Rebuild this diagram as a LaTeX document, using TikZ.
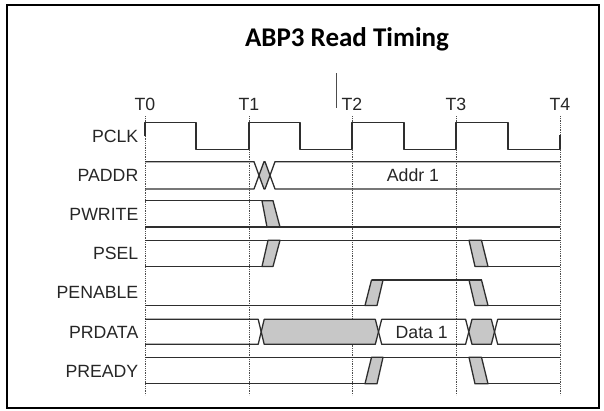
\documentclass[tikz,border=0pt]{standalone}
\usepackage{fontspec}
\setmainfont{Liberation Sans}
\newfontfamily\titlefont{Carlito}
\begin{document}
\begin{tikzpicture}[x=1pt, y=-1pt,
      sig/.style={draw=black!82, line width=1.3pt, line join=round},
      gap/.style={fill=black!22},
      tline/.style={draw=black!70, line width=0.6pt, dash pattern=on 0.7pt off 1.1pt},
      lab/.style={font=\fontsize{17.7}{20}\selectfont, text=black!85, inner sep=0pt}]
    \useasboundingbox (0,0) rectangle (604,410);
    \draw[line width=1.6pt] (7,5) rectangle (599,408);
    \node[font=\titlefont\bfseries\fontsize{27}{30}\selectfont, anchor=base, inner sep=0pt] (title) at (347,46) {ABP3 Read Timing};
    \draw[black!70, line width=0.8pt] (336,73) -- (336,108);
    \foreach \t/\x in {0/145,1/249,2/352,3/456,4/560} {
      \node[lab, anchor=base] (t\t) at (\x,110) {T\t};
      \draw[tline] (\x,116) -- (\x,395);
    }
    \foreach \n/\y in {PCLK/142,PADDR/181.5,PWRITE/220.5,PSEL/259.5,PENABLE/298.8,PRDATA/338,PREADY/377}
      \node[lab, anchor=base east] (\n) at (138.5,\y) {\n};
    % PCLK
    \draw[sig] (145,136) |- (196,122.7) |- (249,149.5) |- (300,122.7) |- (352,149.5)
      |- (404,122.7) |- (456,149.5) |- (508,122.7) |- (560,149.5) -- (560,135);
    % PADDR
    \fill[gap] (259,175.3) -- (264,161.7) -- (265,161.7) -- (270,175.3) -- (265,189) -- (264,189) -- cycle;
    \draw[sig] (145,161.7) -- (254,161.7) -- (264,189) -- (265,189) -- (275,161.7) -- (560,161.7);
    \draw[sig] (145,189) -- (254,189) -- (264,161.7) -- (265,161.7) -- (275,189) -- (560,189);
    \node[lab, anchor=base] (addr) at (413,181.5) {Addr 1};
    % PWRITE
    \filldraw[sig, gap] (262,200.7) -- (273,200.7) -- (280,227) -- (267,227) -- cycle;
    \draw[sig] (145,200.7) -- (273,200.7);
    \draw[sig] (145,227) -- (560,227);
    % PSEL
    \filldraw[sig, gap] (262,266.5) -- (273,266.5) -- (280,240.3) -- (268,240.3) -- cycle;
    \filldraw[sig, gap] (469,240.3) -- (481.5,240.3) -- (488,266.5) -- (475,266.5) -- cycle;
    \draw[sig] (145,240.3) -- (560,240.3);
    \draw[sig] (145,266.5) -- (273,266.5) (475,266.5) -- (560,266.5);
    % PENABLE
    \filldraw[sig, gap] (365,305.5) -- (377,305.5) -- (383,280) -- (371.5,280) -- cycle;
    \filldraw[sig, gap] (469,280) -- (481.5,280) -- (488,305.5) -- (475,305.5) -- cycle;
    \draw[sig] (145,305.5) -- (377,305.5) (371.5,280) -- (481.5,280) (475,305.5) -- (560,305.5);
    % PRDATA
    \draw[sig] (145,319.3) -- (258.2,319.3) -- (261.2,331.8) -- (258.2,344.3) -- (145,344.3);
    \filldraw[sig, gap] (261.2,331.8) -- (264.2,319.3) -- (375.3,319.3) -- (378.5,331.8) -- (375.3,344.3) -- (264.2,344.3) -- cycle;
    \draw[sig] (378.5,331.8) -- (381.7,319.3) -- (465.6,319.3) -- (468.8,331.8) -- (465.6,344.3) -- (381.7,344.3) -- cycle;
    \filldraw[sig, gap] (468.8,331.8) -- (472,319.3) -- (491.3,319.3) -- (494.5,331.8) -- (491.3,344.3) -- (472,344.3) -- cycle;
    \draw[sig] (560,319.3) -- (497.7,319.3) -- (494.5,331.8) -- (497.7,344.3) -- (560,344.3);
    \node[lab, anchor=base] (data) at (421.7,338) {Data 1};
    % PREADY
    \filldraw[sig, gap] (365,383.8) -- (377,383.8) -- (383,357.3) -- (371.5,357.3) -- cycle;
    \filldraw[sig, gap] (469,357.3) -- (481.5,357.3) -- (488,383.8) -- (475,383.8) -- cycle;
    \draw[sig] (145,357.3) -- (560,357.3);
    \draw[sig] (145,383.8) -- (377,383.8) (475,383.8) -- (560,383.8);
  \end{tikzpicture}
\end{document}
